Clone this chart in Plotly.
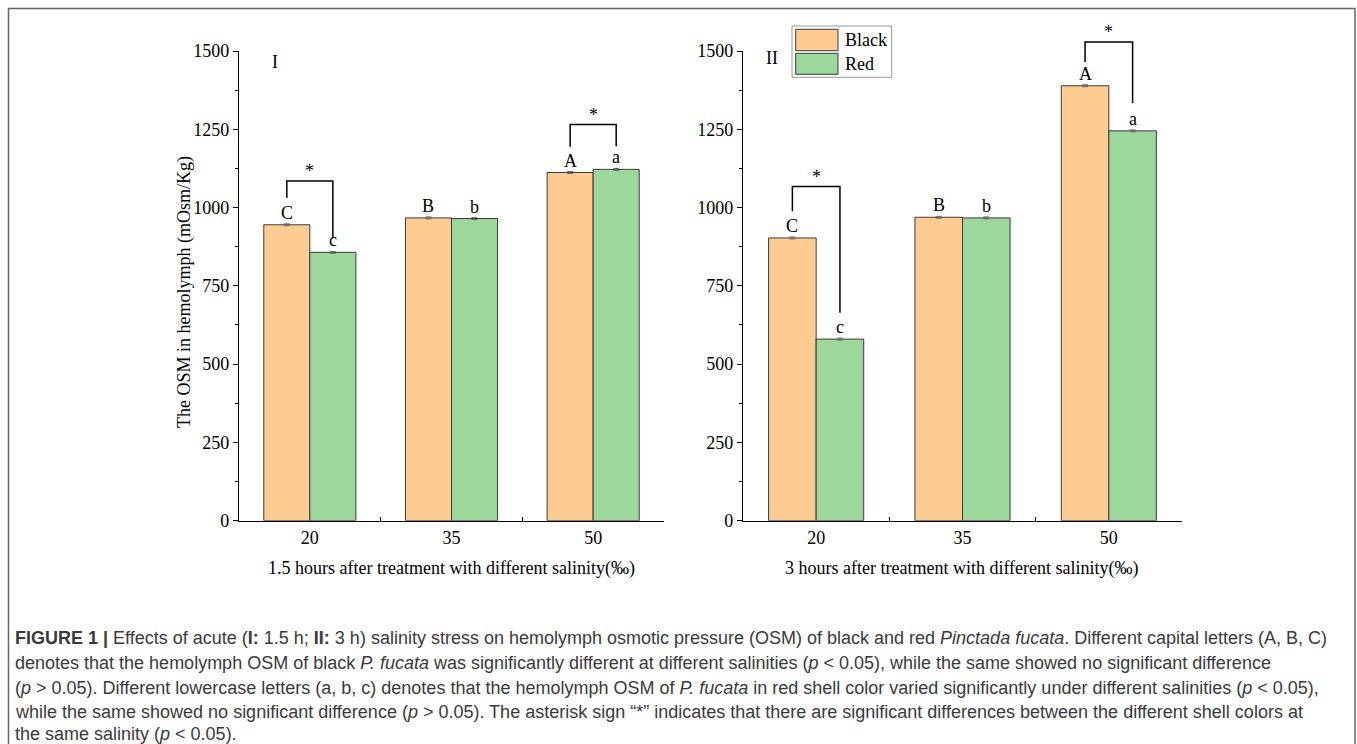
import plotly.graph_objects as go

# ---- data -------------------------------------------------------------
salinity = ["20", "35", "50"]

osm_black_1h5 = [945, 967, 1112]
osm_red_1h5 = [857, 965, 1122]
err_black_1h5 = [3, 3, 3]
err_red_1h5 = [3, 3, 3]

osm_black_3h = [903, 969, 1389]
osm_red_3h = [580, 967, 1245]
err_black_3h = [3, 3, 3]
err_red_3h = [3, 3, 3]

letters_black = ["C", "B", "A"]
letters_red = ["c", "b", "a"]

y_ticks = [0, 250, 500, 750, 1000, 1250, 1500]

# ---- style ------------------------------------------------------------
W, H = 1357, 744
C_BLACK = "#FECC92"
C_RED = "#9DD79B"
EDGE = "#3a3a3a"
SERIF = "Liberation Serif, Times New Roman, serif"
SANS = "Liberation Sans, Arial, sans-serif"
FS = 18
YMAX = 1500
BAR_OFF = 0.1625  # half of a bar width in category units


def px(x):
    return x / W


def py(y):
    return 1 - y / H


ydom = [py(520.7), py(51)]
x1dom = [px(239), px(664)]
x2dom = [px(743), px(1182)]

fig = go.Figure()

panels = [
    ("x", "y", osm_black_1h5, osm_red_1h5, err_black_1h5, err_red_1h5),
    ("x2", "y2", osm_black_3h, osm_red_3h, err_black_3h, err_red_3h),
]

for xa, ya, vb, vr, eb, er in panels:
    for name, vals, errs, col in (("Black", vb, eb, C_BLACK), ("Red", vr, er, C_RED)):
        fig.add_trace(go.Bar(
            x=salinity, y=vals, name=name, xaxis=xa, yaxis=ya,
            marker=dict(color=col, line=dict(color=EDGE, width=1)),
            error_y=dict(type="data", array=errs, color="#666", thickness=1, width=3),
            showlegend=False,
        ))

axis_common_y = dict(
    range=[0, YMAX], tickvals=y_ticks, showline=True, linecolor="black", linewidth=1.4,
    ticks="outside", ticklen=5, tickwidth=1.2, tickcolor="black",
    minor=dict(dtick=125, ticks="outside", ticklen=3, tickcolor="black", tickwidth=1),
    showgrid=False, zeroline=False, automargin=False,
    tickfont=dict(family=SERIF, size=FS, color="black"),
)
axis_common_x = dict(
    type="category", range=[-0.5, 2.5], showline=True, linecolor="black", linewidth=1.4,
    ticks="inside", tickson="boundaries", ticklen=4, tickwidth=1.2, tickcolor="black",
    showgrid=False, zeroline=False, automargin=False,
    tickfont=dict(family=SERIF, size=FS, color="black"),
)

fig.update_layout(
    width=W, height=H, autosize=False,
    margin=dict(l=0, r=0, t=0, b=0, pad=0, autoexpand=False),
    paper_bgcolor="white", plot_bgcolor="white",
    barmode="group", bargap=0.35, bargroupgap=0,
    xaxis=dict(domain=x1dom, anchor="y", **axis_common_x),
    yaxis=dict(domain=ydom, anchor="x", **axis_common_y),
    xaxis2=dict(domain=x2dom, anchor="y2", **axis_common_x),
    yaxis2=dict(domain=ydom, anchor="x2", **axis_common_y),
)

annotations = []
shapes = []


def text(x, y, s, xref="paper", yref="paper", xanchor="center", yanchor="middle", **kw):
    font = kw.pop("font", dict(family=SERIF, size=FS, color="black"))
    annotations.append(dict(x=x, y=y, xref=xref, yref=yref, text=s, showarrow=False,
                            xanchor=xanchor, yanchor=yanchor, font=font, **kw))


# significance letters above each bar
for xa, ya, vb, vr, eb, er in panels:
    for i in range(3):
        for vals, errs, labels, sgn in ((vb, eb, letters_black, -1), (vr, er, letters_red, 1)):
            text((i + 0.5 + sgn * BAR_OFF) / 3, (vals[i] + errs[i]) / YMAX, labels[i],
                 xref=f"{xa} domain", yref=f"{ya} domain", yanchor="bottom", yshift=-1)

# brackets with asterisks: (category index, rise over taller bar, left gap, right gap)
brackets = {
    0: [(0, 140, 86, 44), (2, 143, 82, 74)],
    1: [(0, 164, 85, 84), (2, 140, 76, 88)],
}
for p, (xa, ya, vb, vr, eb, er) in enumerate(panels):
    for i, rise, gl, gr in brackets[p]:
        top = max(vb[i], vr[i]) + rise
        xl = (i + 0.5 - BAR_OFF) / 3
        xr = (i + 0.5 + BAR_OFF) / 3
        path = (f"M {xl} {(vb[i] + gl) / YMAX} L {xl} {top / YMAX} "
                f"L {xr} {top / YMAX} L {xr} {(vr[i] + gr) / YMAX}")
        shapes.append(dict(type="path", path=path, xref=f"{xa} domain", yref=f"{ya} domain",
                           line=dict(color="black", width=1.5)))
        text((i + 0.5) / 3, top / YMAX, "*", xref=f"{xa} domain", yref=f"{ya} domain",
             yanchor="bottom", yshift=-2)

# panel labels
text(px(275), py(62), "I")
text(px(772), py(58), "II")

# axis titles
text(px(184), py(292), "The OSM in hemolymph (mOsm/Kg)", textangle=-90)
text(px(451.5), py(568), "1.5 hours after treatment with different salinity(‰)")
text(px(962), py(568), "3 hours after treatment with different salinity(‰)")

# legend box
shapes.append(dict(type="rect", xref="paper", yref="paper",
                   x0=px(792), x1=px(891.7), y0=py(77.3), y1=py(26),
                   line=dict(color="#999", width=1), fillcolor="white"))
for name, col, y0, y1 in (("Black", C_BLACK, 29.3, 50.7), ("Red", C_RED, 53.3, 74.3)):
    shapes.append(dict(type="rect", xref="paper", yref="paper",
                       x0=px(795.7), x1=px(838), y0=py(y1), y1=py(y0),
                       line=dict(color=EDGE, width=1), fillcolor=col))
    text(px(843), py((y0 + y1) / 2), name, xanchor="left")

# outer frame
shapes.append(dict(type="path", xref="paper", yref="paper",
                   path=f"M {px(8.5)} {py(760)} L {px(8.5)} {py(8.5)} L {px(1355)} {py(8.5)} L {px(1355)} {py(760)}",
                   line=dict(color="#666", width=1.5)))

# caption
caption_lines = [
    "<b>FIGURE 1 |</b> Effects of acute (<b>I:</b> 1.5 h; <b>II:</b> 3 h) salinity stress on hemolymph osmotic pressure (OSM) of black and red <i>Pinctada fucata</i>. Different capital letters (A, B, C)",
    "denotes that the hemolymph OSM of black <i>P. fucata</i> was significantly different at different salinities (<i>p</i> &lt; 0.05), while the same showed no significant difference",
    "(<i>p</i> &gt; 0.05). Different lowercase letters (a, b, c) denotes that the hemolymph OSM of <i>P. fucata</i> in red shell color varied significantly under different salinities (<i>p</i> &lt; 0.05),",
    "while the same showed no significant difference (<i>p</i> &gt; 0.05). The asterisk sign “*” indicates that there are significant differences between the different shell colors at",
    "the same salinity (<i>p</i> &lt; 0.05).",
]
caption_y = [638, 663, 688, 712, 734]
for line, yy in zip(caption_lines, caption_y):
    text(px(13), py(yy), line, xanchor="left",
         font=dict(family=SANS, size=18, color="#3a3a3a"))

fig.update_layout(annotations=annotations, shapes=shapes)

fig.write_html("out.html")
